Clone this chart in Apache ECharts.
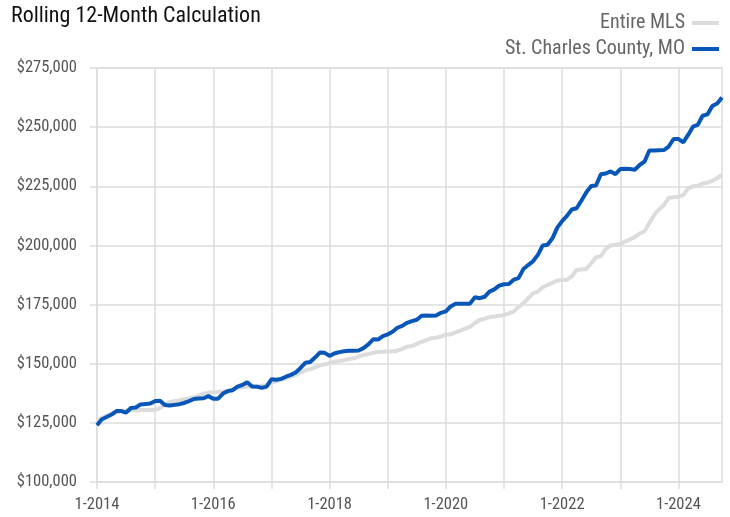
<!DOCTYPE html>
<html lang="en">
<head>
    <meta charset="utf-8">
    <title>Rolling 12-Month Calculation</title>
    <script src="https://cdn.jsdelivr.net/npm/echarts@6/dist/echarts.min.js"></script>
    <style>
        html, body { margin: 0; padding: 0; background: #fff; }
        #chart { width: 730px; height: 517px; }
    </style>
</head>
<body>
<div id="chart"></div>
<script type="text/javascript">
    // monthly points, 1-2014 .. 10-2024
    var startYear = 2014
    var monthCount = 130

    var seriesNames = ['Entire MLS', 'St. Charles County, MO']

    var entireMls = [
        126000, 127000, 128000, 128800, 129500, 130000, 130200, 130300, 130300, 130400, 130400, 130400,
        130500, 131200, 132800, 133800, 134200, 134500, 135000, 135300, 135800, 136500, 137300, 137800,
        137900, 138000, 138300, 138700, 139200, 139700, 140000, 140300, 140500, 140500, 140700, 141000,
        142000, 142600, 143200, 143800, 144500, 145200, 146200, 147200, 147700, 148400, 149300, 149800,
        150300, 150900, 151100, 151500, 152000, 152300, 153000, 153700, 154100, 154600, 155000, 155100,
        155200, 155300, 155500, 156300, 157200, 157500, 158400, 159200, 160000, 160800, 161000, 161500,
        162300, 162400, 163200, 164000, 164800, 165600, 167200, 168500, 169000, 169700, 170000, 170300,
        170600, 171300, 172000, 174000, 175500, 177600, 179700, 180500, 182300, 183300, 184200, 185200,
        185400, 185400, 187000, 189600, 189800, 190000, 192500, 195000, 195500, 198500, 200000, 200300,
        200600, 201600, 202500, 203500, 205000, 206000, 209500, 212900, 215200, 217000, 220100, 220400,
        220600, 221300, 224000, 225000, 225200, 226200, 226500, 227300, 228400, 229800
    ]

    var stCharles = [
        124000, 126500, 127500, 128500, 130000, 130000, 129300, 131300, 131500, 132800, 133000, 133200,
        134200, 134300, 132500, 132300, 132600, 132900, 133400, 134200, 135100, 135300, 135400, 136300,
        135200, 135200, 137400, 138400, 138800, 140300, 141000, 142200, 140400, 140300, 139800, 140300,
        143400, 143200, 143600, 144500, 145300, 146300, 148200, 150400, 150700, 152600, 154700, 154600,
        153300, 154300, 154900, 155300, 155500, 155500, 155600, 156600, 158200, 160300, 160200, 161700,
        162400, 163500, 165200, 166000, 167300, 168000, 168600, 170300, 170400, 170300, 170400, 171500,
        172100, 174200, 175300, 175400, 175400, 175400, 178100, 177700, 178300, 180500, 181400, 183000,
        183600, 183700, 185500, 186200, 190000, 191700, 193300, 196000, 200000, 200300, 203000, 207500,
        210300, 212500, 215200, 215700, 219000, 222500, 225100, 225300, 230100, 230400, 231300, 230100,
        232300, 232400, 232300, 232000, 234000, 235400, 240100, 240100, 240200, 240300, 241800, 245000,
        245000, 243600, 246700, 250200, 251000, 254800, 255400, 258900, 260000, 262500
    ]

    var yTicks = [100000, 125000, 150000, 175000, 200000, 225000, 250000, 275000]

    var months = []
    for (var i = 0; i < monthCount; i++) {
        months.push((i % 12 + 1) + '-' + (startYear + Math.floor(i / 12)))
    }

    var fontNarrow = "'Liberation Sans Narrow', 'Roboto Condensed', 'Liberation Sans', sans-serif"
    var gridColor = '#dddddd'

    var myChart = echarts.init(document.getElementById('chart'))
    var option = {
        animation: false,
        title: {
            text: 'Rolling 12-Month Calculation',
            left: 6,
            top: 0,
            textStyle: {
                fontFamily: fontNarrow,
                fontWeight: 'normal',
                fontSize: 22,
                color: '#111'
            }
        },
        legend: {
            orient: 'vertical',
            right: 6,
            top: 8,
            align: 'right',
            itemWidth: 27,
            itemHeight: 4,
            itemGap: 6,
            icon: 'rect',
            data: seriesNames,
            textStyle: {
                fontFamily: fontNarrow,
                fontSize: 20,
                color: '#666',
                padding: [0, 2, 0, 0]
            }
        },
        grid: {
            left: 97,
            right: 8,
            top: 68,
            bottom: 35,
            show: true,
            borderColor: gridColor,
            borderWidth: 1.5
        },
        xAxis: {
            type: 'category',
            boundaryGap: false,
            data: months,
            axisLine: { show: false },
            axisTick: {
                show: true,
                interval: 11,
                length: 7,
                lineStyle: { color: gridColor, width: 1.5 }
            },
            axisLabel: {
                interval: 23,
                margin: 14,
                fontFamily: fontNarrow,
                fontSize: 16.5,
                color: '#555'
            },
            splitLine: {
                show: true,
                interval: 11,
                lineStyle: { color: gridColor, width: 1.5 }
            }
        },
        yAxis: {
            type: 'value',
            min: yTicks[0],
            max: yTicks[yTicks.length - 1],
            interval: 25000,
            axisLine: { show: false },
            axisTick: {
                show: true,
                length: 7,
                lineStyle: { color: gridColor, width: 1.5 }
            },
            axisLabel: {
                margin: 20,
                fontFamily: fontNarrow,
                fontSize: 16.5,
                color: '#555',
                formatter: function (v) {
                    return '$' + v.toLocaleString('en-US')
                }
            },
            splitLine: {
                lineStyle: { color: gridColor, width: 1.5 }
            }
        },
        series: [
            {
                name: seriesNames[0],
                type: 'line',
                data: entireMls,
                showSymbol: false,
                color: '#dcdcdc',
                lineStyle: { width: 4, color: '#dcdcdc' }
            },
            {
                name: seriesNames[1],
                type: 'line',
                data: stCharles,
                showSymbol: false,
                color: '#0857b8',
                lineStyle: { width: 4, color: '#0857b8' }
            }
        ]
    }
    myChart.setOption(option)
</script>
</body>
</html>
